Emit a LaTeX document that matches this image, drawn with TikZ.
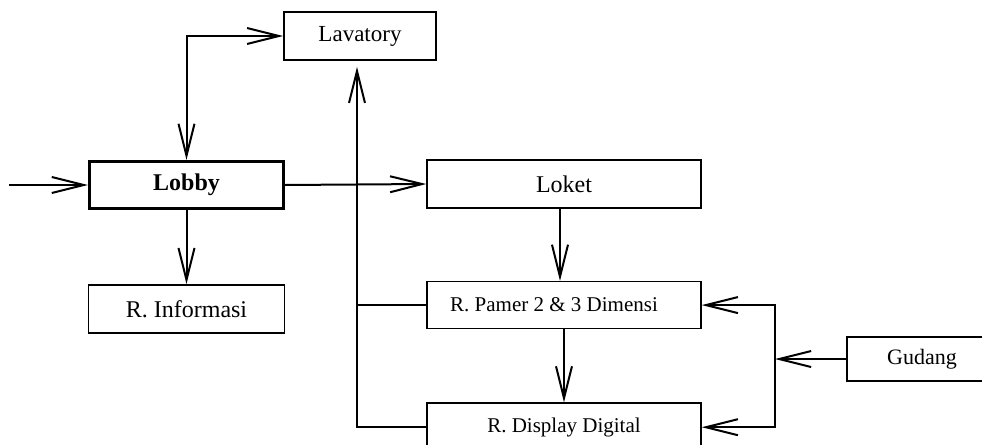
\documentclass[tikz,border=0pt]{standalone}
\usepackage{fontspec}
\setmainfont{Liberation Serif}
\usetikzlibrary{arrows.meta, positioning}
\tikzstyle{ruang} = [draw, line width=0.8pt, rectangle, inner sep=0pt, minimum height=24pt, font=\fontsize{12}{14}\selectfont]
\tikzstyle{ruangkecil} = [ruang, font=\fontsize{10.5}{12}\selectfont]
\tikzstyle{utama} = [ruang, line width=1.6pt, font=\fontsize{12}{14}\selectfont\bfseries]
\tikzstyle{panah} = [-{Straight Barb[length=16pt, width=8pt, line width=1pt]}, line width=1pt]
\tikzstyle{garis} = [line width=1pt]

\begin{document}
\begin{tikzpicture}[x=0.5pt, y=-0.5pt]
	\useasboundingbox (0,0) rectangle (982,445);
	\clip (0,0) rectangle (982,445);
	\node [utama, minimum width=97pt, minimum height=23.5pt] (lobby) at (186.5,185) {Lobby};
	\node [ruang, minimum width=98pt, below=37pt of lobby] (informasi) {R. Informasi};
	\node [ruang, minimum width=76pt, font=\fontsize{11.5}{13}\selectfont] (lavatory) at (360,36) {Lavatory};
	\node [ruang, minimum width=137pt] (loket) at (564,184) {Loket};
	\node [ruangkecil, minimum width=137pt, minimum height=23.5pt, below=36pt of loket] (pamer) {R. Pamer 2 \& 3 Dimensi\hspace*{10pt}};
	\node [ruangkecil, minimum width=137pt, below=36.5pt of pamer] (display) {R. Display Digital};
	\node [ruang, minimum width=75pt, minimum height=22pt, font=\fontsize{11}{13}\selectfont] (gudang) at (922,359) {Gudang};
	\coordinate (masuk) at (9,185);
	\coordinate (cabang) at (775,359);
	\coordinate (tiang) at ([xshift=-1.5pt]lavatory.south);
	\draw [panah] (masuk) -- (lobby.west);
	\draw [panah, {Straight Barb[length=16pt, width=8pt, line width=1pt]}-{Straight Barb[length=16pt, width=8pt, line width=1pt]}] (lobby.north) |- (lavatory.west);
	\draw [panah] (lobby.south) -- (informasi.north);
	\draw [panah] (lobby.east) -- (loket.west);
	\draw [panah] ([xshift=-2pt]loket.south) -- ([xshift=-2pt]pamer.north);
	\draw [panah] (pamer.south) -- (display.north);
	\draw [panah, shorten >=3pt] (display.west) -| (tiang);
	\draw [garis] (pamer.west) -- (pamer.west -| tiang);
	\draw [panah] (gudang.west) -- (cabang);
	\draw [panah] (cabang) |- (pamer.east);
	\draw [panah] (cabang) |- (display.east);
\end{tikzpicture}
\end{document}
